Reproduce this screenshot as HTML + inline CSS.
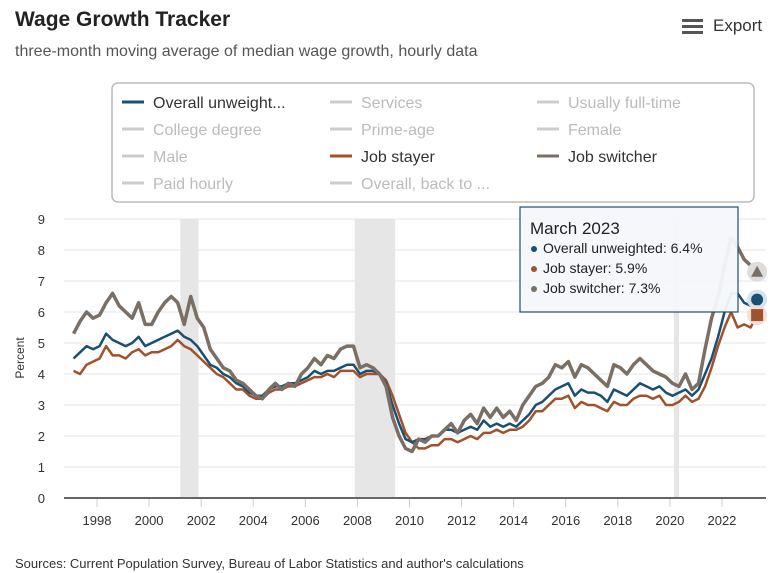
<!DOCTYPE html>
<html><head><meta charset="utf-8"><style>
body{margin:0;width:779px;height:573px;background:#fff;font-family:"Liberation Sans",sans-serif;overflow:hidden;position:relative}
.t{position:absolute;white-space:nowrap}
</style></head><body>
<div class="t" style="left:15px;top:8px;font-size:21px;font-weight:bold;color:#222">Wage Growth Tracker</div>
<div class="t" style="left:15px;top:43px;font-size:16px;color:#555">three-month moving average of median wage growth, hourly data</div>
<div class="t" style="left:682px;top:16px;font-size:17px;color:#333"><span style="display:inline-block;vertical-align:middle;width:21px;height:15px;background:linear-gradient(#555 0 3px,transparent 3px 6px,#555 6px 9px,transparent 9px 12px,#555 12px 15px);margin-right:10px"></span>Export</div>
<svg id="c" width="779" height="573" style="position:absolute;left:0;top:0"></svg>
<div class="t" style="left:15px;top:556px;font-size:13px;color:#333">Sources: Current Population Survey, Bureau of Labor Statistics and author's calculations</div>
<script>
const years=[1998,2000,2002,2004,2006,2008,2010,2012,2014,2016,2018,2020,2022];
const yTicks=[0,1,2,3,4,5,6,7,8,9];
const startYear=1997.1;
const overall=[4.5,4.7,4.9,4.8,4.9,5.3,5.1,5.0,4.9,5.0,5.2,4.9,5.0,5.1,5.2,5.3,5.4,5.2,5.1,4.9,4.6,4.3,4.2,4.0,3.9,3.7,3.6,3.4,3.3,3.3,3.5,3.6,3.6,3.7,3.7,3.8,3.9,4.1,4.0,4.1,4.1,4.2,4.3,4.3,4.0,4.1,4.1,4.0,3.7,3.0,2.4,1.9,1.8,1.9,1.9,2.0,2.0,2.2,2.2,2.1,2.2,2.3,2.2,2.5,2.3,2.4,2.3,2.4,2.3,2.5,2.7,3.0,3.1,3.3,3.5,3.6,3.7,3.3,3.5,3.4,3.4,3.3,3.1,3.5,3.4,3.3,3.5,3.7,3.6,3.5,3.6,3.4,3.3,3.4,3.5,3.3,3.5,4.0,4.5,5.2,6.0,6.6,6.6,6.3,6.2,6.4];
const stayer=[4.1,4.0,4.3,4.4,4.5,4.9,4.6,4.6,4.5,4.7,4.8,4.6,4.7,4.7,4.8,4.9,5.1,4.9,4.8,4.6,4.4,4.2,4.0,3.9,3.7,3.5,3.5,3.3,3.2,3.2,3.4,3.5,3.5,3.6,3.6,3.7,3.8,3.9,3.9,4.0,3.9,4.1,4.1,4.1,3.9,4.0,4.0,4.0,3.8,3.3,2.7,2.1,1.8,1.6,1.6,1.7,1.7,1.9,1.9,1.8,1.9,2.0,1.9,2.1,2.1,2.2,2.1,2.2,2.2,2.3,2.5,2.8,2.8,3.0,3.2,3.2,3.3,2.9,3.1,3.0,3.0,2.9,2.8,3.1,3.0,3.0,3.2,3.3,3.3,3.2,3.3,3.0,3.0,3.1,3.3,3.1,3.2,3.6,4.2,4.9,5.5,6.0,5.5,5.6,5.5,5.9];
const switcher=[5.3,5.7,6.0,5.8,5.9,6.3,6.6,6.2,6.0,5.8,6.3,5.6,5.6,6.0,6.3,6.5,6.3,5.6,6.5,5.8,5.5,4.8,4.5,4.2,4.1,3.8,3.7,3.5,3.3,3.2,3.5,3.7,3.5,3.7,3.6,4.0,4.2,4.5,4.3,4.6,4.5,4.8,4.9,4.9,4.2,4.3,4.2,4.0,3.6,2.6,2.0,1.6,1.5,1.9,1.8,2.0,2.0,2.2,2.4,2.1,2.5,2.7,2.4,2.9,2.6,2.9,2.6,2.8,2.5,3.0,3.3,3.6,3.7,3.9,4.3,4.2,4.4,3.9,4.3,4.2,4.0,3.8,3.6,4.3,4.2,4.0,4.3,4.5,4.3,4.1,4.0,3.9,3.7,3.6,4.0,3.5,3.7,4.8,5.8,6.5,7.5,8.4,8.1,7.7,7.5,7.3];
const recessions=[[2001.2,2001.9],[2007.9,2009.45],[2020.15,2020.35]];
const NS="http://www.w3.org/2000/svg",svg=document.getElementById('c');
const X=t=>97+(t-1998)*26.04, Y=v=>498-v*31;
function el(tag,a,p){const e=document.createElementNS(NS,tag);for(const k in a)e.setAttribute(k,a[k]);(p||svg).appendChild(e);return e;}
const lg=el('rect',{x:112,y:83,width:642,height:119,rx:6,fill:'#fff',stroke:'#bbb','stroke-width':1.5});

const items=[["Overall unweight...","#1b4f72",1],["Services","#ccc",0],["Usually full-time","#ccc",0],["College degree","#ccc",0],["Prime-age","#ccc",0],["Female","#ccc",0],["Male","#ccc",0],["Job stayer","#a0522d",1],["Job switcher","#7a6f64",1],["Paid hourly","#ccc",0],["Overall, back to ...","#ccc",0]];
items.forEach((it,i)=>{const cx=[122,330,537][i%3],cy=102+Math.floor(i/3)*27;
const g=el('g',{});
el('line',{x1:cx,x2:cx+22,y1:cy,y2:cy,stroke:it[1],'stroke-width':3},g);
const t=el('text',{x:cx+31,y:cy+6,'font-size':16,fill:it[2]?'#333':'#bbb','font-family':'Liberation Sans'},g);t.textContent=it[0];});
recessions.forEach(r=>{const e=el('rect',{x:X(r[0]),y:219,width:X(r[1])-X(r[0]),height:279,fill:'#e6e6e6'});});
yTicks.forEach(v=>{const l=el('line',{x1:64,x2:766,y1:Y(v),y2:Y(v),stroke:'#e6e6e6'});
const t=el('text',{x:45,y:Y(v)+5,'font-size':13,fill:'#333','text-anchor':'end'});t.textContent=v;});
const ax=el('line',{x1:64,x2:766,y1:498,y2:498,stroke:'#666','stroke-width':2});
years.forEach(y=>{el('line',{x1:X(y),x2:X(y),y1:499,y2:507,stroke:'#ccd'});const t=el('text',{x:X(y),y:525,'font-size':13,fill:'#333','text-anchor':'middle'});t.textContent=y;});
const yl=el('text',{x:0,y:0,'font-size':12,fill:'#333','text-anchor':'middle',transform:'translate(24,358) rotate(-90)'});yl.textContent='Percent';
function line(d,c,w,n){const p=el('polyline',{points:d.map((v,i)=>X(startYear+i/4)+','+Y(v)).join(' '),fill:'none',stroke:c,'stroke-width':w,'stroke-linejoin':'round'});return p;}
line(stayer,'#a0522d',2.5,'line-job-stayer');line(overall,'#1b4f72',2.5,'line-overall');line(switcher,'#7a6f64',3.5,'line-job-switcher');
const li=overall.length-1,lx=X(startYear+li/4);
el('circle',{cx:lx,cy:Y(switcher[li]),r:10,fill:'#ddd'});el('path',{d:`M${lx-6},${Y(switcher[li])+5}L${lx+6},${Y(switcher[li])+5}L${lx},${Y(switcher[li])-6}Z`,fill:'#7a6f64'});
el('circle',{cx:lx,cy:Y(overall[li]),r:10,fill:'#d6e2ec'});el('circle',{cx:lx,cy:Y(overall[li]),r:6,fill:'#1b4f72'});
el('circle',{cx:lx,cy:Y(stayer[li]),r:10,fill:'#eee0d8'});el('rect',{x:lx-6,y:Y(stayer[li])-6,width:12,height:12,fill:'#a0522d'});
const tg=el('g',{});
el('rect',{x:520,y:207,width:218,height:105,fill:'#f4f7fa','fill-opacity':0.95,stroke:'#1b4f72','stroke-width':1.2},tg);
let tt=el('text',{x:530,y:234,'font-size':17,fill:'#222'},tg);tt.textContent='March 2023';
[['Overall unweighted: ',overall[li],'#1b4f72'],['Job stayer: ',stayer[li],'#a0522d'],['Job switcher: ',switcher[li],'#7a6f64']].forEach((r,i)=>{const y=253+i*20;
el('circle',{cx:534,cy:y-4,r:3,fill:r[2]},tg);const t=el('text',{x:543,y:y,'font-size':14,fill:'#222'},tg);t.textContent=r[0]+r[1].toFixed(1)+'%';});
</script>
</body></html>
